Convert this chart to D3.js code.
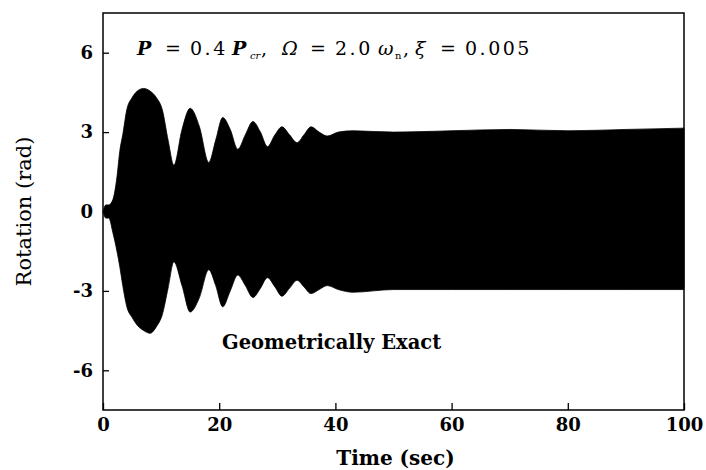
<!DOCTYPE html>
<html>
<head>
<meta charset="utf-8">
<script src="https://cdn.jsdelivr.net/npm/d3@7"></script>
<style>
  body { margin: 0; background: #fff; }
  svg { display: block; }
  .tick text { font-family: "DejaVu Serif", serif; font-weight: bold; font-size: 18px; fill: #000; }
  .tick line { stroke: #000; stroke-width: 1.3; }
</style>
</head>
<body>
<svg id="chart" width="706" height="470"></svg>
<script>
// envelope of the rotation response at common times
let times = [0, 0.5, 1.0, 1.7, 2.4, 2.9, 3.4, 4.1, 5.0, 5.9, 7.0, 8.1, 9.2, 10.2, 11.2, 12.2, 13.6, 15.0, 16.6,
             18.2, 19.4, 20.6, 21.9, 23.2, 24.5, 25.8, 27.1, 28.3, 29.6, 30.8, 32.1, 33.4, 34.6, 35.8, 37.2,
             38.6, 40.5, 43, 50, 60, 70, 80, 90, 100];
let upperVal = [0, 0.25, 0.25, 0.45, 1.3, 2.3, 2.9, 3.85, 4.3, 4.55, 4.65, 4.55, 4.3, 3.85, 2.7, 1.75, 3.1, 3.9, 3.2,
                1.85, 2.7, 3.55, 3.1, 2.35, 2.9, 3.4, 3.0, 2.45, 2.9, 3.2, 2.9, 2.6, 2.9, 3.2, 3.0,
                2.85, 3.0, 3.05, 3.0, 3.05, 3.1, 3.05, 3.1, 3.15];
let lowerVal = [0, -0.25, -0.25, -0.8, -1.5, -2.1, -2.8, -3.6, -4.0, -4.3, -4.5, -4.6, -4.35, -3.9, -2.9, -1.9, -2.8, -3.8, -3.25,
                -2.2, -2.8, -3.6, -3.0, -2.4, -2.8, -3.25, -2.9, -2.5, -2.85, -3.2, -2.9, -2.6, -2.85, -3.1, -2.95,
                -2.8, -2.95, -3.05, -2.95, -2.95, -2.95, -2.95, -2.95, -2.95];

let xTicks = [0, 20, 40, 60, 80, 100];
let yTicks = [-6, -3, 0, 3, 6];

let svg = d3.select("#chart");

let plotLeft = 103, plotRight = 684, plotTop = 13, plotBottom = 410;

let xScale = d3.scaleLinear().domain([0, 100]).range([plotLeft, plotRight]);
let yScale = d3.scaleLinear().domain([-7.5, 7.5]).range([plotBottom, plotTop]);

let band = d3.area()
    .x((d, i) => xScale(times[i]))
    .y0((d, i) => yScale(lowerVal[i]))
    .y1((d, i) => yScale(upperVal[i]))
    .curve(d3.curveMonotoneX);

svg.append("path")
    .attr("d", band(times))
    .attr("fill", "#000")
    .attr("stroke", "#000")
    .attr("stroke-width", 0.8);

// axes, ticks pointing inward
let yAxis = d3.axisLeft(yScale).tickValues(yTicks).tickSize(-6).tickPadding(10)
    .tickFormat(d => d < 0 ? "-" + Math.abs(d) : d);
svg.append("g")
    .attr("transform", `translate(${plotLeft},0)`)
    .call(yAxis)
    .call(g => g.select(".domain").remove());

let xAxis = d3.axisBottom(xScale).tickValues(xTicks).tickSize(-7).tickPadding(8);
svg.append("g")
    .attr("transform", `translate(0,${plotBottom})`)
    .call(xAxis)
    .call(g => g.select(".domain").remove());

// frame
svg.append("rect")
    .attr("x", plotLeft)
    .attr("y", plotTop)
    .attr("width", plotRight - plotLeft)
    .attr("height", plotBottom - plotTop)
    .attr("fill", "none")
    .attr("stroke", "#000")
    .attr("stroke-width", 1.5);

// axis titles
svg.append("text")
    .attr("transform", `translate(31,${(plotTop + plotBottom) / 2}) rotate(-90)`)
    .attr("text-anchor", "middle")
    .style("font-family", "DejaVu Serif, serif")
    .style("font-size", "21px")
    .text("Rotation (rad)");

svg.append("text")
    .attr("x", (plotLeft + plotRight) / 2 + 2)
    .attr("y", 465)
    .attr("text-anchor", "middle")
    .style("font-family", "DejaVu Serif, serif")
    .style("font-weight", "bold")
    .style("font-size", "20px")
    .text("Time (sec)");

// parameters, each piece placed where it sits in the figure
let note = svg.append("text")
    .attr("y", 55)
    .style("font-family", "DejaVu Serif, serif")
    .style("font-size", "19px");
let piece = (x, s, opts = {}) => {
    let t = note.append("tspan").attr("x", x).text(s);
    if (opts.italic) t.style("font-style", "italic");
    if (opts.bold) t.style("font-weight", "bold");
    if (opts.sub) t.attr("y", 59).style("font-size", "10px");
    else t.attr("y", 55);
    if (opts.spaced) t.style("letter-spacing", "2.5px");
    return t;
};
piece(137, "P", { italic: true, bold: true });
piece(165, "=");
piece(190, "0.4", { spaced: true });
piece(232, "P", { italic: true, bold: true });
piece(250, "cr", { italic: true, sub: true });
piece(261, ",");
piece(282, "Ω", { italic: true });
piece(310, "=");
piece(335, "2.0", { spaced: true });
piece(378, "ω", { italic: true });
piece(395, "n", { sub: true });
piece(403, ",");
piece(415, "ξ", { italic: true });
piece(440, "=");
piece(465, "0.005", { spaced: true });

svg.append("text")
    .attr("x", 222)
    .attr("y", 349)
    .style("font-family", "DejaVu Serif, serif")
    .style("font-weight", "bold")
    .style("font-size", "19.5px")
    .text("Geometrically Exact");
</script>
</body>
</html>
